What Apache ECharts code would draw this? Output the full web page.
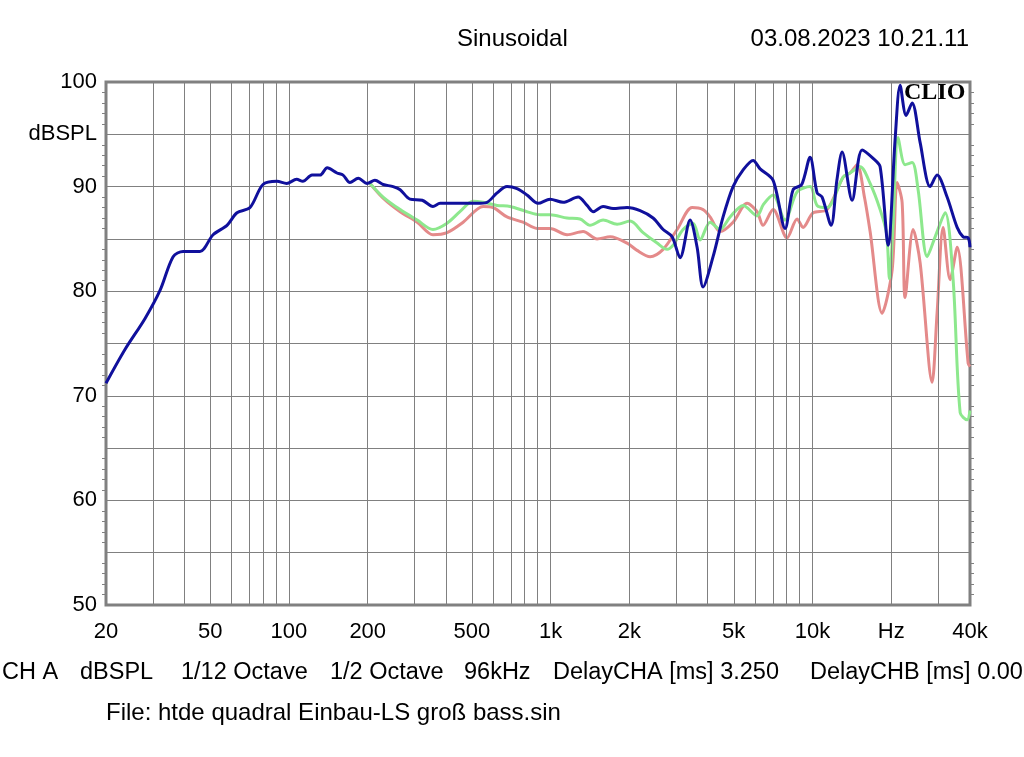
<!DOCTYPE html>
<html><head><meta charset="utf-8">
<script src="https://cdn.jsdelivr.net/npm/echarts@6/dist/echarts.min.js"></script>
<style>html,body{margin:0;padding:0;background:#fff}#c{width:1024px;height:757px}</style>
</head><body><div id="c"></div>
<script>
// Frequency response data (Hz, dBSPL)
const blueFreq = [20,23.6,28.2,32.2,36.1,39.4,45.7,51.3,58,63.3,71,79.6,90,98,107,113,122.5,131.5,140,152.6,161,171,184,199,213,229,250,266,290,323,355,378,450,523,571,624,681,744,812,895,995,1115,1273,1377,1452,1586,1731,1958,2196,2461,2689,2910,3122,3409,3626,3822,4173,4557,4976,5436,5934,6311,7076,7863,8436,9100,9796,10420,10890,11786,12400,12984,14178,15482,17056,18142,19463,20698,21630,22800,24040,25800,28160,29940,32700,35720,37660,39360,40000];
const blueDb = [71.2,74.4,77.4,80.1,83.3,83.8,83.8,85.4,86.3,87.5,88.0,90.2,90.5,90.3,90.7,90.5,91.1,91.1,91.8,91.3,91.1,90.4,90.8,90.3,90.6,90.2,90.0,89.7,88.8,88.7,88.1,88.4,88.4,88.4,88.5,89.4,90.0,89.8,89.2,88.4,88.8,88.5,89.0,88.2,87.6,88.1,87.9,88.0,87.7,87.0,85.9,85.2,83.2,86.8,84.2,80.4,83.3,87.1,90.0,91.6,92.5,91.7,90.6,86.0,89.7,90.2,92.8,89.4,89.0,86.3,90.6,93.3,88.7,93.5,92.7,91.9,84.4,94.5,99.7,96.8,98.0,94.2,90.0,91.1,89.0,86.1,85.2,85.1,84.2];

const greenFreq = [204,229,266,309,355,402,450,505,552,624,700,812,911,995,1155,1295,1414,1586,1794,2011,2254,2550,2784,2936,3205,3500,3722,4064,4439,4846,5436,6147,6500,7076,7863,8738,9796,10420,11379,13100,13932,15212,16612,18142,19200,19700,20300,21254,22600,24040,25340,27440,29440,32140,34480,36680,39000,40000];
const greenDb = [90.3,89.0,87.8,86.8,85.9,86.5,87.6,88.6,88.5,88.2,88.1,87.6,87.3,87.3,87.0,86.9,86.3,86.8,86.4,86.7,85.6,84.6,84.0,84.4,85.9,86.5,84.9,86.6,85.9,87.1,88.2,87.2,88.3,89.2,86.8,89.5,90.0,88.2,88.0,90.9,91.3,91.9,90.3,87.8,85.5,81.2,86.0,94.7,92.1,92.3,89.7,83.3,85.2,87.5,81.1,68.4,67.7,68.6];

const redFreq = [204,229,266,309,355,402,463,552,602,681,784,887,995,1155,1330,1504,1687,1958,2138,2398,2689,3041,3470,3822,4064,4439,4976,5630,6147,6477,7076,8002,8738,9211,10058,11379,13100,13932,14816,15800,16612,18462,20158,21068,22014,22600,24260,25800,28660,29940,31580,33580,35720,39360,40000];
const redDb = [90.3,88.9,87.6,86.6,85.4,85.6,86.6,88.1,88.0,87.1,86.6,86.0,86.0,85.4,85.7,85.0,85.2,84.6,83.9,83.3,84.0,85.9,88.0,87.8,87.1,85.7,86.6,88.4,87.6,86.3,87.8,85.1,86.9,86.1,87.5,87.8,90.9,91.3,92.1,89.0,85.7,77.9,82.0,90.4,88.5,79.4,85.9,82.7,71.3,77.9,86.1,81.1,84.2,73.1,72.8];

// Axis ticks
const tickFreqs = [20,50,100,200,500,1000,2000,5000,10000,20000,40000];
const tickLabels = ['20','50','100','200','500','1k','2k','5k','10k','Hz','40k'];
const gridFreqs = [30,40,50,60,70,80,90,100,200,300,400,500,600,700,800,900,1000,2000,3000,4000,5000,6000,7000,8000,9000,10000,20000,30000];
const yLabels = {100:'100',95:'dBSPL',90:'90',80:'80',70:'70',60:'60',50:'50'};

const L = Math.log10;
const toPts = (f, d) => f.map((v, i) => [L(v), d[i]]);

const chart = echarts.init(document.getElementById('c'), null, {renderer: 'canvas'});
const FF = 'Liberation Sans, Arial, sans-serif';
const txt = {fontFamily: FF, fontSize: 23.5, fill: '#000'};
const txt24 = {fontFamily: FF, fontSize: 24, fill: '#000'};
const gc = '#808080';

chart.setOption({
  animation: false,
  backgroundColor: '#fff',
  grid: {left: 106, right: 54, top: 82, bottom: 152, show: true, borderColor: gc, borderWidth: 3, backgroundColor: 'transparent'},
  xAxis: {
    type: 'value', min: L(20), max: L(40000),
    axisLine: {show: false}, axisTick: {show: false}, splitLine: {show: false},
    axisLabel: {
      customValues: tickFreqs.map(L), margin: 16, color: '#000',
      fontFamily: FF, fontSize: 22,
      formatter: v => { let b = 0, bd = 1e9; tickFreqs.forEach((f, i) => { const d = Math.abs(L(f) - v); if (d < bd) { bd = d; b = i; } }); return tickLabels[b]; }
    }
  },
  yAxis: [
    {type: 'value', min: 50, max: 100, interval: 5, position: 'left',
     axisLine: {show: false},
     axisTick: {show: false},
     minorTick: {show: true, splitNumber: 5, length: 4, lineStyle: {color: gc}},
     splitLine: {show: true, lineStyle: {color: gc, width: 1}},
     axisLabel: {margin: 9, color: '#000', fontFamily: FF, fontSize: 22,
       formatter: v => yLabels[v] || '',
       rich: {}}},
    {type: 'value', min: 50, max: 100, interval: 5, position: 'right',
     axisLine: {show: false}, axisTick: {show: false}, axisLabel: {show: false}, splitLine: {show: false},
     minorTick: {show: true, splitNumber: 5, length: 4, lineStyle: {color: gc}}}
  ],
  series: [
    {type: 'line', name: 'grid', data: [], silent: true,
     markLine: {silent: true, symbol: 'none', label: {show: false}, animation: false,
       lineStyle: {color: gc, width: 1, type: 'solid'},
       data: gridFreqs.map(f => ({xAxis: L(f)}))}},
    {type: 'line', name: 'B', data: toPts(redFreq, redDb), showSymbol: false, smooth: 0.3,
     lineStyle: {color: '#e48a8a', width: 3}, z: 3},
    {type: 'line', name: 'A2', data: toPts(greenFreq, greenDb), showSymbol: false, smooth: 0.3,
     lineStyle: {color: '#8de88d', width: 3}, z: 4},
    {type: 'line', name: 'A', data: toPts(blueFreq, blueDb), showSymbol: false, smooth: 0.3,
     lineStyle: {color: '#10109c', width: 3}, z: 5}
  ],
  graphic: [
    {type: 'text', left: 457, top: 27, style: Object.assign({text: 'Sinusoidal'}, txt24)},
    {type: 'text', right: 55, top: 27, style: Object.assign({text: '03.08.2023 10.21.11'}, txt24)},
    {type: 'text', left: 904, top: 81, z: 10, style: {text: 'CLIO', fontFamily: 'Liberation Serif, Times New Roman, serif', fontWeight: 'bold', fontSize: 24, fill: '#000'}},
    {type: 'text', left: 2, top: 661, style: Object.assign({text: 'CH A'}, txt)},
    {type: 'text', left: 80, top: 661, style: Object.assign({text: 'dBSPL'}, txt)},
    {type: 'text', left: 181, top: 661, style: Object.assign({text: '1/12 Octave'}, txt)},
    {type: 'text', left: 330, top: 661, style: Object.assign({text: '1/2 Octave'}, txt)},
    {type: 'text', left: 464, top: 661, style: Object.assign({text: '96kHz'}, txt)},
    {type: 'text', left: 553, top: 661, style: Object.assign({text: 'DelayCHA [ms] 3.250'}, txt)},
    {type: 'text', left: 810, top: 661, style: Object.assign({text: 'DelayCHB [ms] 0.00'}, txt)},
    {type: 'text', left: 106, top: 701, style: Object.assign({text: 'File: htde quadral Einbau-LS groß bass.sin'}, txt24)}
  ]
});
</script></body></html>
